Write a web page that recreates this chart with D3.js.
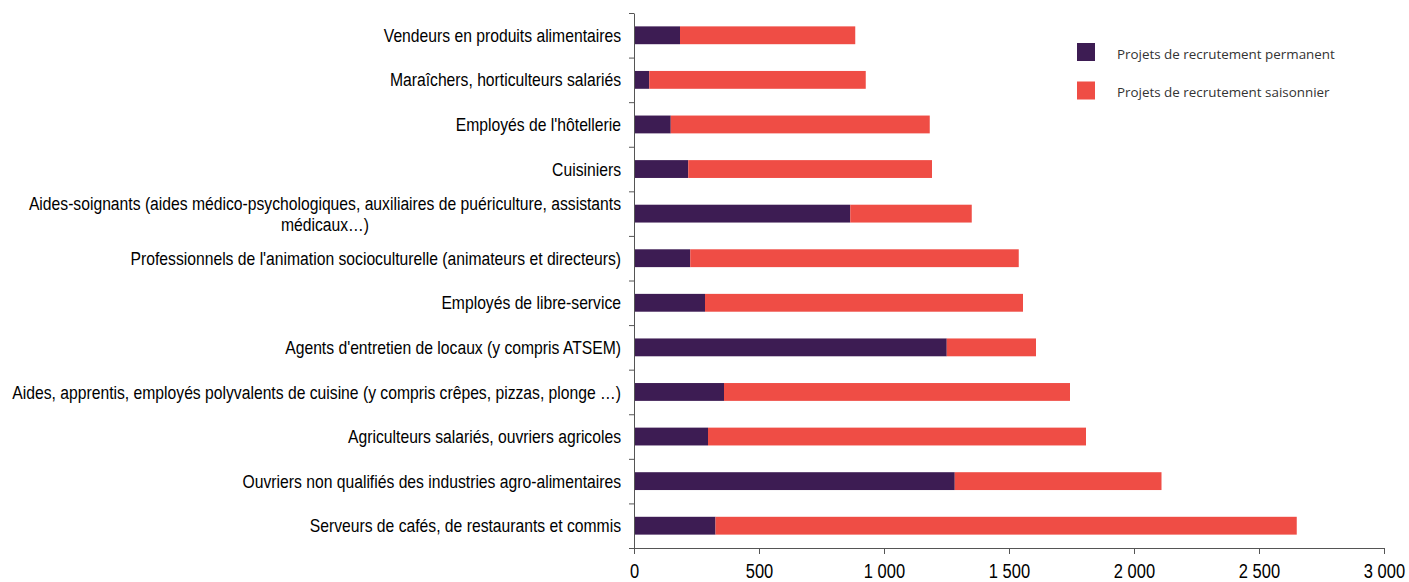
<!DOCTYPE html>
<html>
<head>
<meta charset="utf-8">
<script src="https://cdn.jsdelivr.net/npm/d3@7"></script>
<style>
  body { margin: 0; background: #fff; }
  svg { display: block; }
</style>
</head>
<body>
<script>
// categories top to bottom
const categories = [
  "Vendeurs en produits alimentaires",
  "Maraîchers, horticulteurs salariés",
  "Employés de l'hôtellerie",
  "Cuisiniers",
  "Aides-soignants (aides médico-psychologiques, auxiliaires de puériculture, assistants|médicaux…)",
  "Professionnels de l'animation socioculturelle (animateurs et directeurs)",
  "Employés de libre-service",
  "Agents d'entretien de locaux (y compris ATSEM)",
  "Aides, apprentis, employés polyvalents de cuisine (y compris crêpes, pizzas, plonge …)",
  "Agriculteurs salariés, ouvriers agricoles",
  "Ouvriers non qualifiés des industries agro-alimentaires",
  "Serveurs de cafés, de restaurants et commis"
];
const permanent = [184, 61, 147, 217, 865, 225, 284, 1251, 360, 296, 1283, 326];
const totals    = [885, 927, 1183, 1192, 1351, 1539, 1556, 1608, 1744, 1808, 2110, 2651];
const seasonal  = totals.map((t, i) => t - permanent[i]);
const seriesNames = ["Projets de recrutement permanent", "Projets de recrutement saisonnier"];
const colors = ["#3d1c53", "#ef4d45"];
const xTicks = [0, 500, 1000, 1500, 2000, 2500, 3000];

const W = 1409, H = 582;
const labelFont = "'Liberation Sans', Arial, sans-serif";
const svg = d3.select("body").append("svg").attr("width", W).attr("height", H);

// --- scales ---
const x = d3.scaleLinear().domain([0, 3000]).range([634, 1384]);
const y = d3.scaleBand().domain(d3.range(categories.length))
  .range([13, 548]).paddingInner(0.6).paddingOuter(0.3);
const yEdge = d3.scaleLinear().domain([0, categories.length]).range([13, 548]);

// --- stacked bars ---
const rows = categories.map((c, i) => ({ i, permanent: permanent[i], seasonal: seasonal[i] }));
const stack = d3.stack().keys(["permanent", "seasonal"])(rows);

svg.append("g").selectAll("g")
  .data(stack)
  .join("g")
    .attr("fill", (d, k) => colors[k])
  .selectAll("rect")
  .data(d => d)
  .join("rect")
    .attr("x", d => x(d[0]))
    .attr("y", d => y(d.data.i))
    .attr("width", d => x(d[1]) - x(d[0]))
    .attr("height", y.bandwidth());

// --- axes ---
const xAxis = svg.append("g")
  .attr("transform", `translate(0,${yEdge(categories.length)})`)
  .call(d3.axisBottom(x).tickValues(xTicks).tickSize(6).tickSizeOuter(0)
    .tickFormat(d => d3.format(",")(d).replace(",", " ")));
xAxis.select(".domain").attr("stroke", "#555");
xAxis.selectAll(".tick line").attr("stroke", "#555");
// the original text is drawn a bit taller than it is wide
xAxis.selectAll("text")
  .attr("fill", "#000")
  .attr("font-family", labelFont)
  .attr("font-size", 16.5)
  .attr("y", 0).attr("dy", 0)
  .attr("transform", "translate(0,29.5) scale(1,1.2)");

const yAxis = svg.append("g")
  .attr("transform", `translate(${x(0)},0)`)
  .call(d3.axisLeft(yEdge).tickValues(d3.range(categories.length + 1))
    .tickSize(5).tickSizeOuter(0).tickFormat(""));
yAxis.select(".domain").attr("stroke", "#555");
yAxis.selectAll(".tick line").attr("stroke", "#555");

// --- category labels ---
const labels = svg.append("g")
  .attr("font-family", labelFont)
  .attr("font-size", 15.7)
  .attr("fill", "#000");

function addLabel(str, lx, ly, anchor) {
  return labels.append("text")
    .attr("transform", `translate(${lx},${ly}) scale(1,1.2)`)
    .attr("text-anchor", anchor)
    .attr("dy", "0.35em")
    .text(str);
}

categories.forEach((c, i) => {
  const parts = c.split("|");
  const cy = y(i) + y.bandwidth() / 2;
  if (parts.length === 1) {
    addLabel(c, 621, cy, "end");
  } else {
    const first = addLabel(parts[0], 621, cy - 10.5, "end");
    const w = first.node().getComputedTextLength();
    addLabel(parts[1], 621 - w / 2, cy + 10.5, "middle");
  }
});

// --- legend ---
const legend = svg.append("g").attr("transform", "translate(1077,43)");
seriesNames.forEach((s, k) => {
  const g = legend.append("g").attr("transform", `translate(0,${k * 38.5})`);
  g.append("rect").attr("width", 18).attr("height", 18).attr("fill", colors[k]);
  g.append("text")
    .attr("x", 40).attr("y", 11).attr("dy", "0.35em")
    .attr("font-family", "'Open Sans', sans-serif")
    .attr("font-size", 13.4)
    .attr("fill", "#333")
    .text(s);
});
</script>
</body>
</html>
